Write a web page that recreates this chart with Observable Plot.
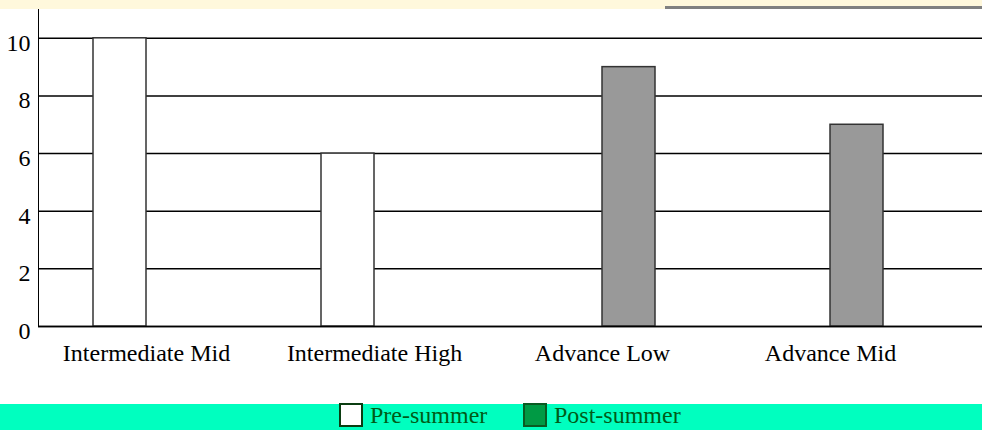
<!DOCTYPE html>
<html>
<head>
<meta charset="utf-8">
<script src="https://cdn.jsdelivr.net/npm/d3@7"></script>
<script src="https://cdn.jsdelivr.net/npm/@observablehq/plot@0.6"></script>
<style>
  html, body { margin: 0; padding: 0; background: #fff; width: 982px; height: 430px; overflow: hidden; }
  #top { position: relative; height: 9px; background: #fff8dc; }
  #top .bar { position: absolute; left: 665px; right: 0; top: 6px; height: 3px; background: #808080; }
  #chart svg { display: block; }
  #legend { position: relative; height: 26px; background: #00ffbf; font-family: "Liberation Serif", serif; font-size: 24px; color: #005c18; }
  #legend .item { position: absolute; top: -2px; display: flex; align-items: center; height: 26px; }
  #legend .sw { width: 24px; height: 24px; box-sizing: border-box; border: 2px solid #0b3d12; margin-right: 7px; }
</style>
</head>
<body>
<div id="top"><div class="bar"></div></div>
<div id="chart"></div>
<div id="legend"></div>
<script>
const categories = ["Intermediate Mid", "Intermediate High", "Advance Low", "Advance Mid"];
const preSummer = [10, 6, null, null];
const postSummer = [null, null, 9, 7];
const yTicks = [0, 2, 4, 6, 8, 10];
const seriesNames = ["Pre-summer", "Post-summer"];
const legendFills = ["#ffffff", "#009a44"];

const preData = categories.map((c, i) => ({category: c, value: preSummer[i]})).filter(d => d.value != null);
const postData = categories.map((c, i) => ({category: c, value: postSummer[i]})).filter(d => d.value != null);

const chart = Plot.plot({
  width: 982,
  height: 395,
  marginTop: 0,
  marginLeft: 38,
  marginRight: 0,
  marginBottom: 78,
  style: {fontFamily: "Liberation Serif, serif", fontSize: "24px", color: "#000", background: "transparent"},
  x: {domain: categories, paddingInner: 0.537, paddingOuter: 0.33, align: 0.358, label: null, tickSize: 0, tickPadding: 17},
  y: {domain: [0, 11], ticks: yTicks, label: null, tickSize: 0, tickPadding: 8, line: true},
  marks: [
    Plot.gridY(yTicks, {stroke: "#000", strokeOpacity: 1, strokeWidth: 1.5}),
    Plot.barY(preData, {x: "category", y: "value", fill: "#ffffff", stroke: "#333", strokeWidth: 1.5, insetRight: 53}),
    Plot.barY(postData, {x: "category", y: "value", fill: "#999999", stroke: "#333", strokeWidth: 1.5, insetLeft: 53}),
    Plot.ruleY([0], {stroke: "#000", strokeWidth: 1.5})
  ]
});
document.getElementById("chart").appendChild(chart);
// nudge y tick labels slightly downward like the reference
d3.select(chart).selectAll("g[aria-label='y-axis tick label'] text").attr("dy", "0.2em");

const legend = document.getElementById("legend");
const lefts = [339, 523];
seriesNames.forEach((name, i) => {
  const item = document.createElement("div");
  item.className = "item";
  item.style.left = lefts[i] + "px";
  const sw = document.createElement("div");
  sw.className = "sw";
  sw.style.background = legendFills[i];
  if (i === 1) sw.style.borderColor = "#0a5a22";
  const t = document.createElement("span");
  t.textContent = name;
  item.appendChild(sw);
  item.appendChild(t);
  legend.appendChild(item);
});
</script>
</body>
</html>
